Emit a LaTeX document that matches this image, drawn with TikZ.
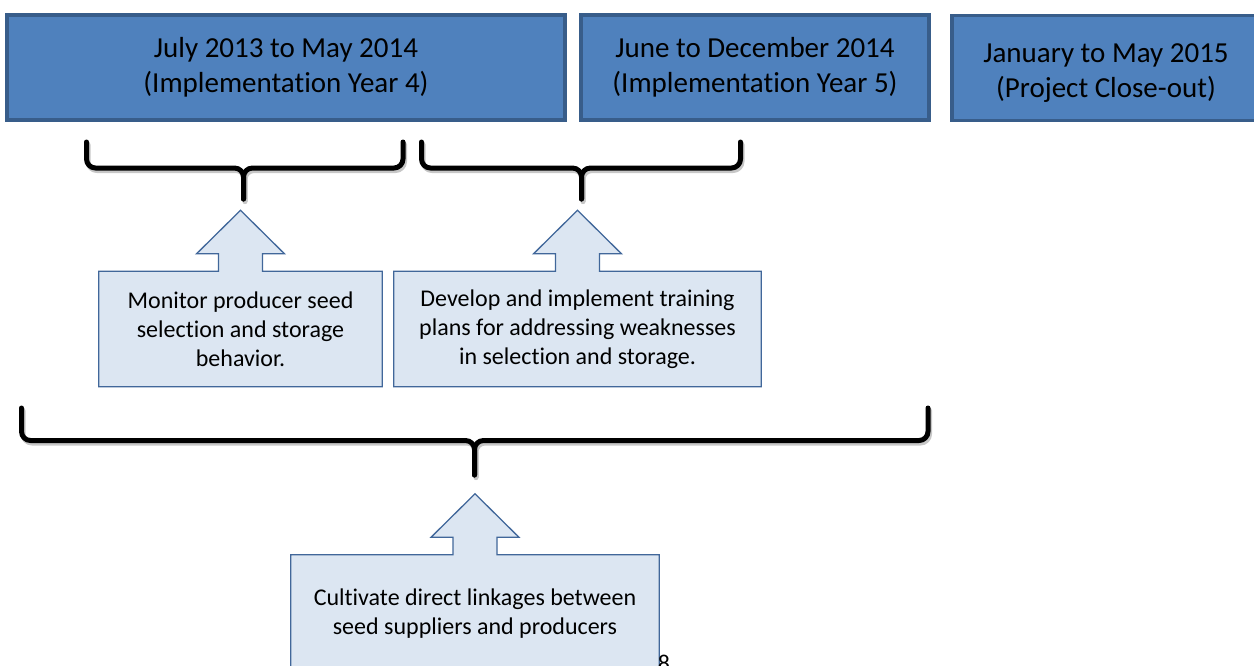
\documentclass[tikz,border=0pt]{standalone}
\usepackage{fontspec}
\setmainfont[Ligatures=NoCommon]{Carlito}
\usetikzlibrary{calc,shadows,backgrounds}
\definecolor{periodfill}{HTML}{4F81BD}
\definecolor{periodedge}{HTML}{385D8A}
\definecolor{taskfill}{HTML}{DCE6F2}
\definecolor{taskedge}{HTML}{41679A}

% up-arrow callout drawn round a task node: stem half width 22, head half width 44
\newcommand\taskcallout[1]{%
  \path[callout] (#1.north west)
    -- ($(#1.north)+(-22,0)$) -- ($(#1.north)+(-22,-17.5)$)
    -- ($(#1.north)+(-44,-17.5)$) -- ($(#1.north)+(0,-61)$)
    -- ($(#1.north)+(44,-17.5)$) -- ($(#1.north)+(22,-17.5)$)
    -- ($(#1.north)+(22,0)$) -- (#1.north east)
    -- (#1.south east) -- (#1.south west) -- cycle;}

% bracket under a span: left x, right x, middle x, top, bar, tip
\newcommand\timebracket[6]{%
  \begin{scope}[shift={(1.5,2.5)}]
    \draw[bracket, draw=black!22] (#1,#4) -- (#1,#5) -- (#3,#5) -- (#3,#6);
    \draw[bracket, draw=black!22] (#2,#4) -- (#2,#5) -- (#3,#5) -- (#3,#6);
  \end{scope}
  \draw[bracket] (#1,#4) -- (#1,#5) -- (#3,#5) -- (#3,#6);
  \draw[bracket] (#2,#4) -- (#2,#5) -- (#3,#5) -- (#3,#6);}

\begin{document}
\begin{tikzpicture}[x=1pt,y=-1pt,
  period/.style={draw=periodedge, fill=periodfill, line width=3.5pt, inner sep=0pt,
    minimum height=105pt,
    drop shadow={shadow xshift=1.5pt, shadow yshift=-1.5pt, opacity=0.3}},
  periodtext/.style={align=center, inner sep=0pt, font=\fontsize{29}{35.5}\selectfont},
  task/.style={align=center, inner sep=0pt, font=\fontsize{24}{29}\selectfont},
  callout/.style={draw=taskedge, fill=taskfill, line width=1.3pt, line join=miter},
  bracket/.style={line width=5pt, rounded corners=9pt, line cap=round, line join=round}]
\useasboundingbox (0,0) rectangle (1254,665);
\clip (0,0) rectangle (1254,665);

% project periods
\node[period, periodtext, minimum width=558pt] (p1) at (286,67.5)
  {July 2013 to May 2014\\(Implementation Year 4)};
\node[period, periodtext, minimum width=348pt] (p2) at (755,67.5)
  {June to December 2014\\(Implementation Year 5)};
\node[period, minimum width=308pt] (p3) at (1106,68) {};
\node[periodtext] (p3label) at ($(p3.center)+(0,5)$)
  {January to May 2015\\(Project Close-out)};

% spans
\timebracket{86.5}{403}{243.5}{142}{168}{199}
\timebracket{421.5}{740.5}{581.5}{142}{168}{199}
\timebracket{21.5}{928}{474.5}{408}{440.5}{475}

% activities
\node[task, minimum width=283pt, minimum height=115pt] (t1) at (240.5,329)
  {Monitor producer seed\\selection and storage\\behavior.};
\node[task, minimum width=367pt, minimum height=115pt] (t2) at (577.5,329)
  {Develop and implement training\\plans for addressing weaknesses\\in selection and storage.};
\node[task, minimum width=368pt, minimum height=118pt] (t3) at (475,614)
  {Cultivate direct linkages between\\seed suppliers and producers};
\begin{scope}[on background layer]
  \taskcallout{t1}
  \taskcallout{t2}
  \taskcallout{t3}
\end{scope}

% page number
\node[font=\fontsize{24}{29}\selectfont, anchor=base, inner sep=0pt] (pagenum) at (664,671) {8};
\end{tikzpicture}
\end{document}
